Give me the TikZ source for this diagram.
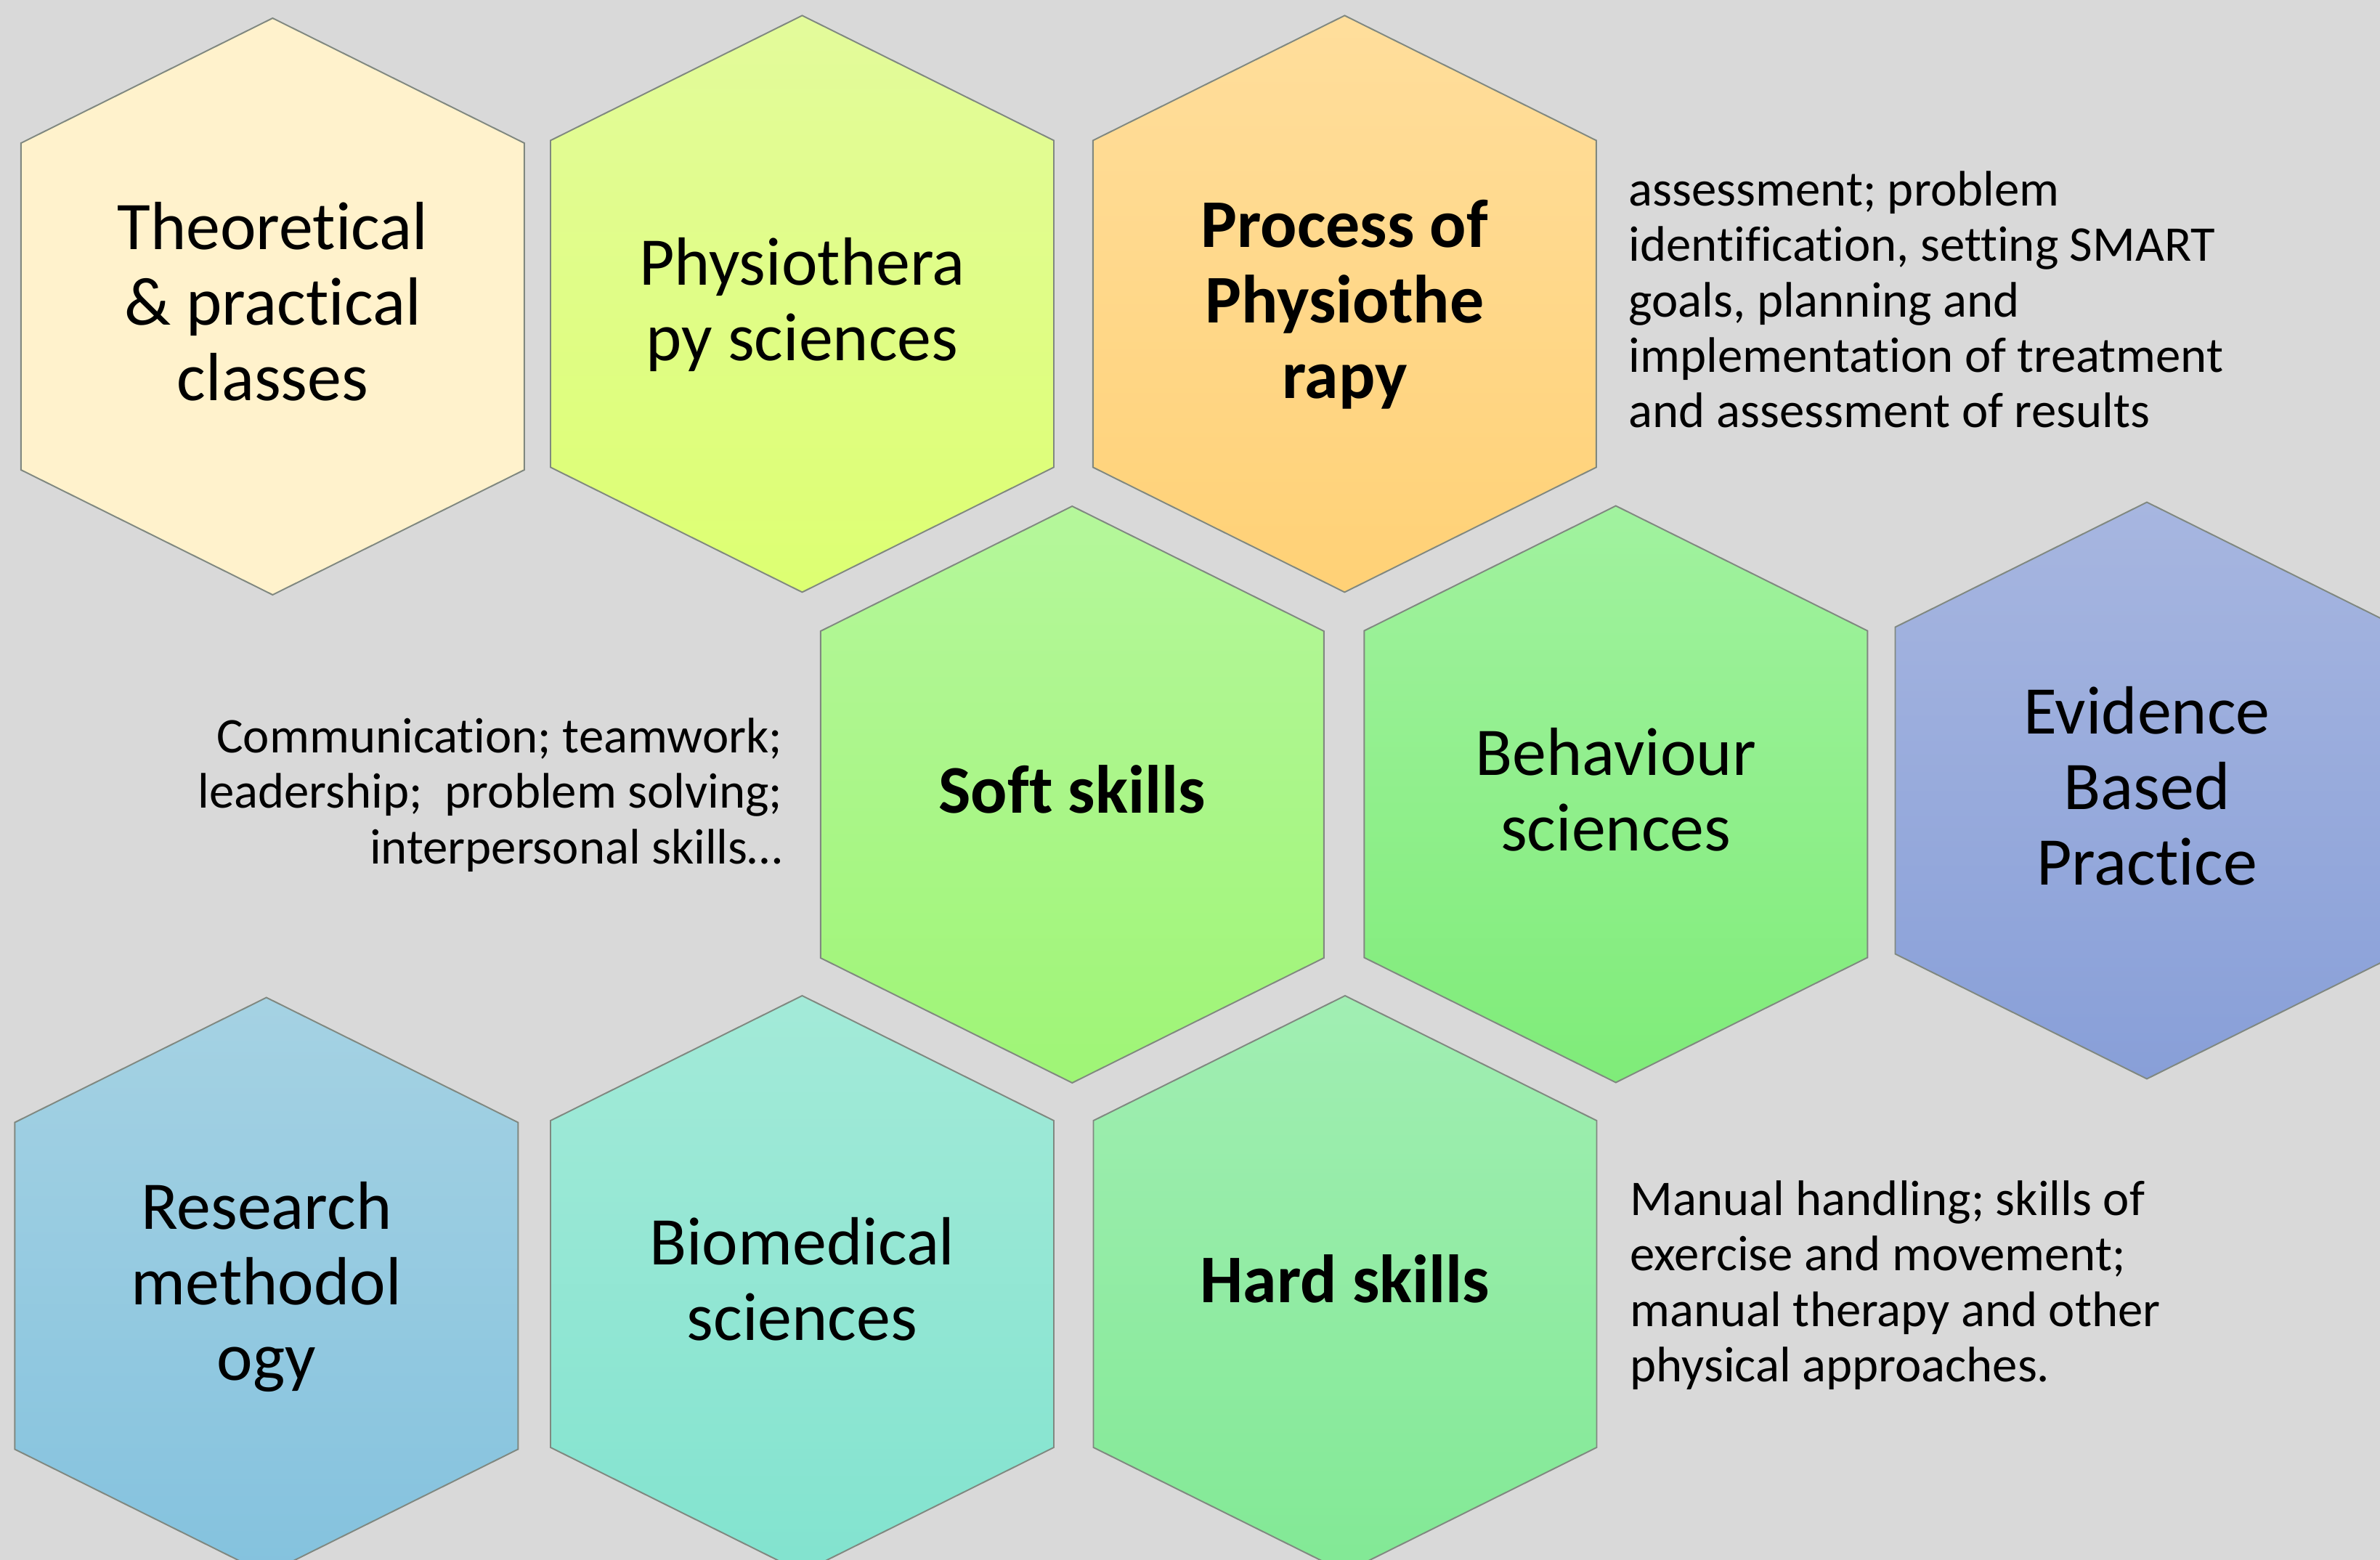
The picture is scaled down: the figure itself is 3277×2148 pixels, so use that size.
\documentclass[tikz,border=0pt]{standalone}
\usepackage{fontspec}
\setmainfont{Carlito}[Ligatures=CommonOff]
\definecolor{bg}{HTML}{D9D9D9}
\definecolor{edge}{HTML}{808880}
\definecolor{theoT}{HTML}{FFF2CC}\definecolor{theoB}{HTML}{FFF2CC}
\definecolor{physT}{HTML}{E3FB9B}\definecolor{physB}{HTML}{DDFF72}
\definecolor{procT}{HTML}{FFDE9C}\definecolor{procB}{HTML}{FFD176}
\definecolor{softT}{HTML}{B5F79B}\definecolor{softB}{HTML}{9FF576}
\definecolor{behT}{HTML}{A1F29F}\definecolor{behB}{HTML}{7FEC79}
\definecolor{evT}{HTML}{A7B6E0}\definecolor{evB}{HTML}{889FD8}
\definecolor{resT}{HTML}{A5D2E3}\definecolor{resB}{HTML}{84C2DE}
\definecolor{bioT}{HTML}{A3EAD8}\definecolor{bioB}{HTML}{82E3CF}
\definecolor{hardT}{HTML}{A1EEB3}\definecolor{hardB}{HTML}{82E995}
\newcommand\hexa[5]{%
  \path[hexline, top color=#4, bottom color=#5]
    (#2-346.5,#3-225) -- (#2,#3-397) -- (#2+346.5,#3-225) --
    (#2+346.5,#3+225) -- (#2,#3+397) -- (#2-346.5,#3+225) -- cycle;
  \coordinate (#1) at (#2,#3);}
\begin{document}
\begin{tikzpicture}[x=0.01cm,y=-0.01cm,
  hexline/.style={draw=edge, line width=0.55pt},
  hextext/.style={inner sep=0pt, align=center, text=black,
    font=\fontsize{26.7pt}{29.6pt}\selectfont, yshift=-0.05cm},
  hexbold/.style={hextext, font=\fontsize{26.7pt}{29.6pt}\selectfont\bfseries},
  sidetext/.style={inner sep=0pt, text=black,
    font=\fontsize{19.55pt}{21.7pt}\selectfont}]
\useasboundingbox (0,0) rectangle (3277,2148);
\clip (0,0) rectangle (3277,2148);
\fill[bg] (0,0) rectangle (3277,2148);
% row 1
\hexa{h1}{375.4}{422}{theoT}{theoB}
\hexa{h2}{1104.5}{418.4}{physT}{physB}
\hexa{h3}{1851.4}{418.4}{procT}{procB}
% row 2
\hexa{h4}{1476.3}{1094}{softT}{softB}
\hexa{h5}{2224.8}{1093.5}{behT}{behB}
\hexa{h6}{2956}{1088.5}{evT}{evB}
% row 3
\hexa{h7}{366.8}{1770.5}{resT}{resB}
\hexa{h8}{1104.5}{1768}{bioT}{bioB}
\hexa{h9}{1852}{1768}{hardT}{hardB}
% labels
\node[hextext] (t1) at (h1) {\strut Theoretical\\\strut \& practical\\\strut classes};
\node[hextext] (t2) at (h2) {\strut Physiothera\\\strut py sciences};
\node[hexbold] (t3) at (h3) {\strut Process of\\\strut Physiothe\\\strut rapy};
\node[hexbold] (t4) at (h4) {\strut Soft skills};
\node[hextext] (t5) at (h5) {\strut Behaviour\\\strut sciences};
\node[hextext] (t6) at (h6) {\strut Evidence\\\strut Based\\\strut Practice};
\node[hextext] (t7) at (h7) {\strut Research\\\strut methodol\\\strut ogy};
\node[hextext] (t8) at (h8) {\strut Biomedical\\\strut sciences};
\node[hexbold] (t9) at (h9) {\strut Hard skills};
% side texts
\node[sidetext, anchor=west, align=left] (s3) at (2242,421) {\strut assessment; problem\\\strut identification, setting SMART\\\strut goals, planning and\\\strut implementation of treatment\\\strut and assessment of results};
\node[sidetext, anchor=east, align=right] (s4) at (1078,1097.5) {\strut Communication; teamwork;\\\strut leadership; \ problem solving;\\\strut interpersonal skills\ldots};
\node[sidetext, anchor=west, align=left] (s9) at (2244,1772.8) {\strut Manual handling; skills of\\\strut exercise and movement;\\\strut manual therapy and other\\\strut physical approaches.};
\end{tikzpicture}
\end{document}
